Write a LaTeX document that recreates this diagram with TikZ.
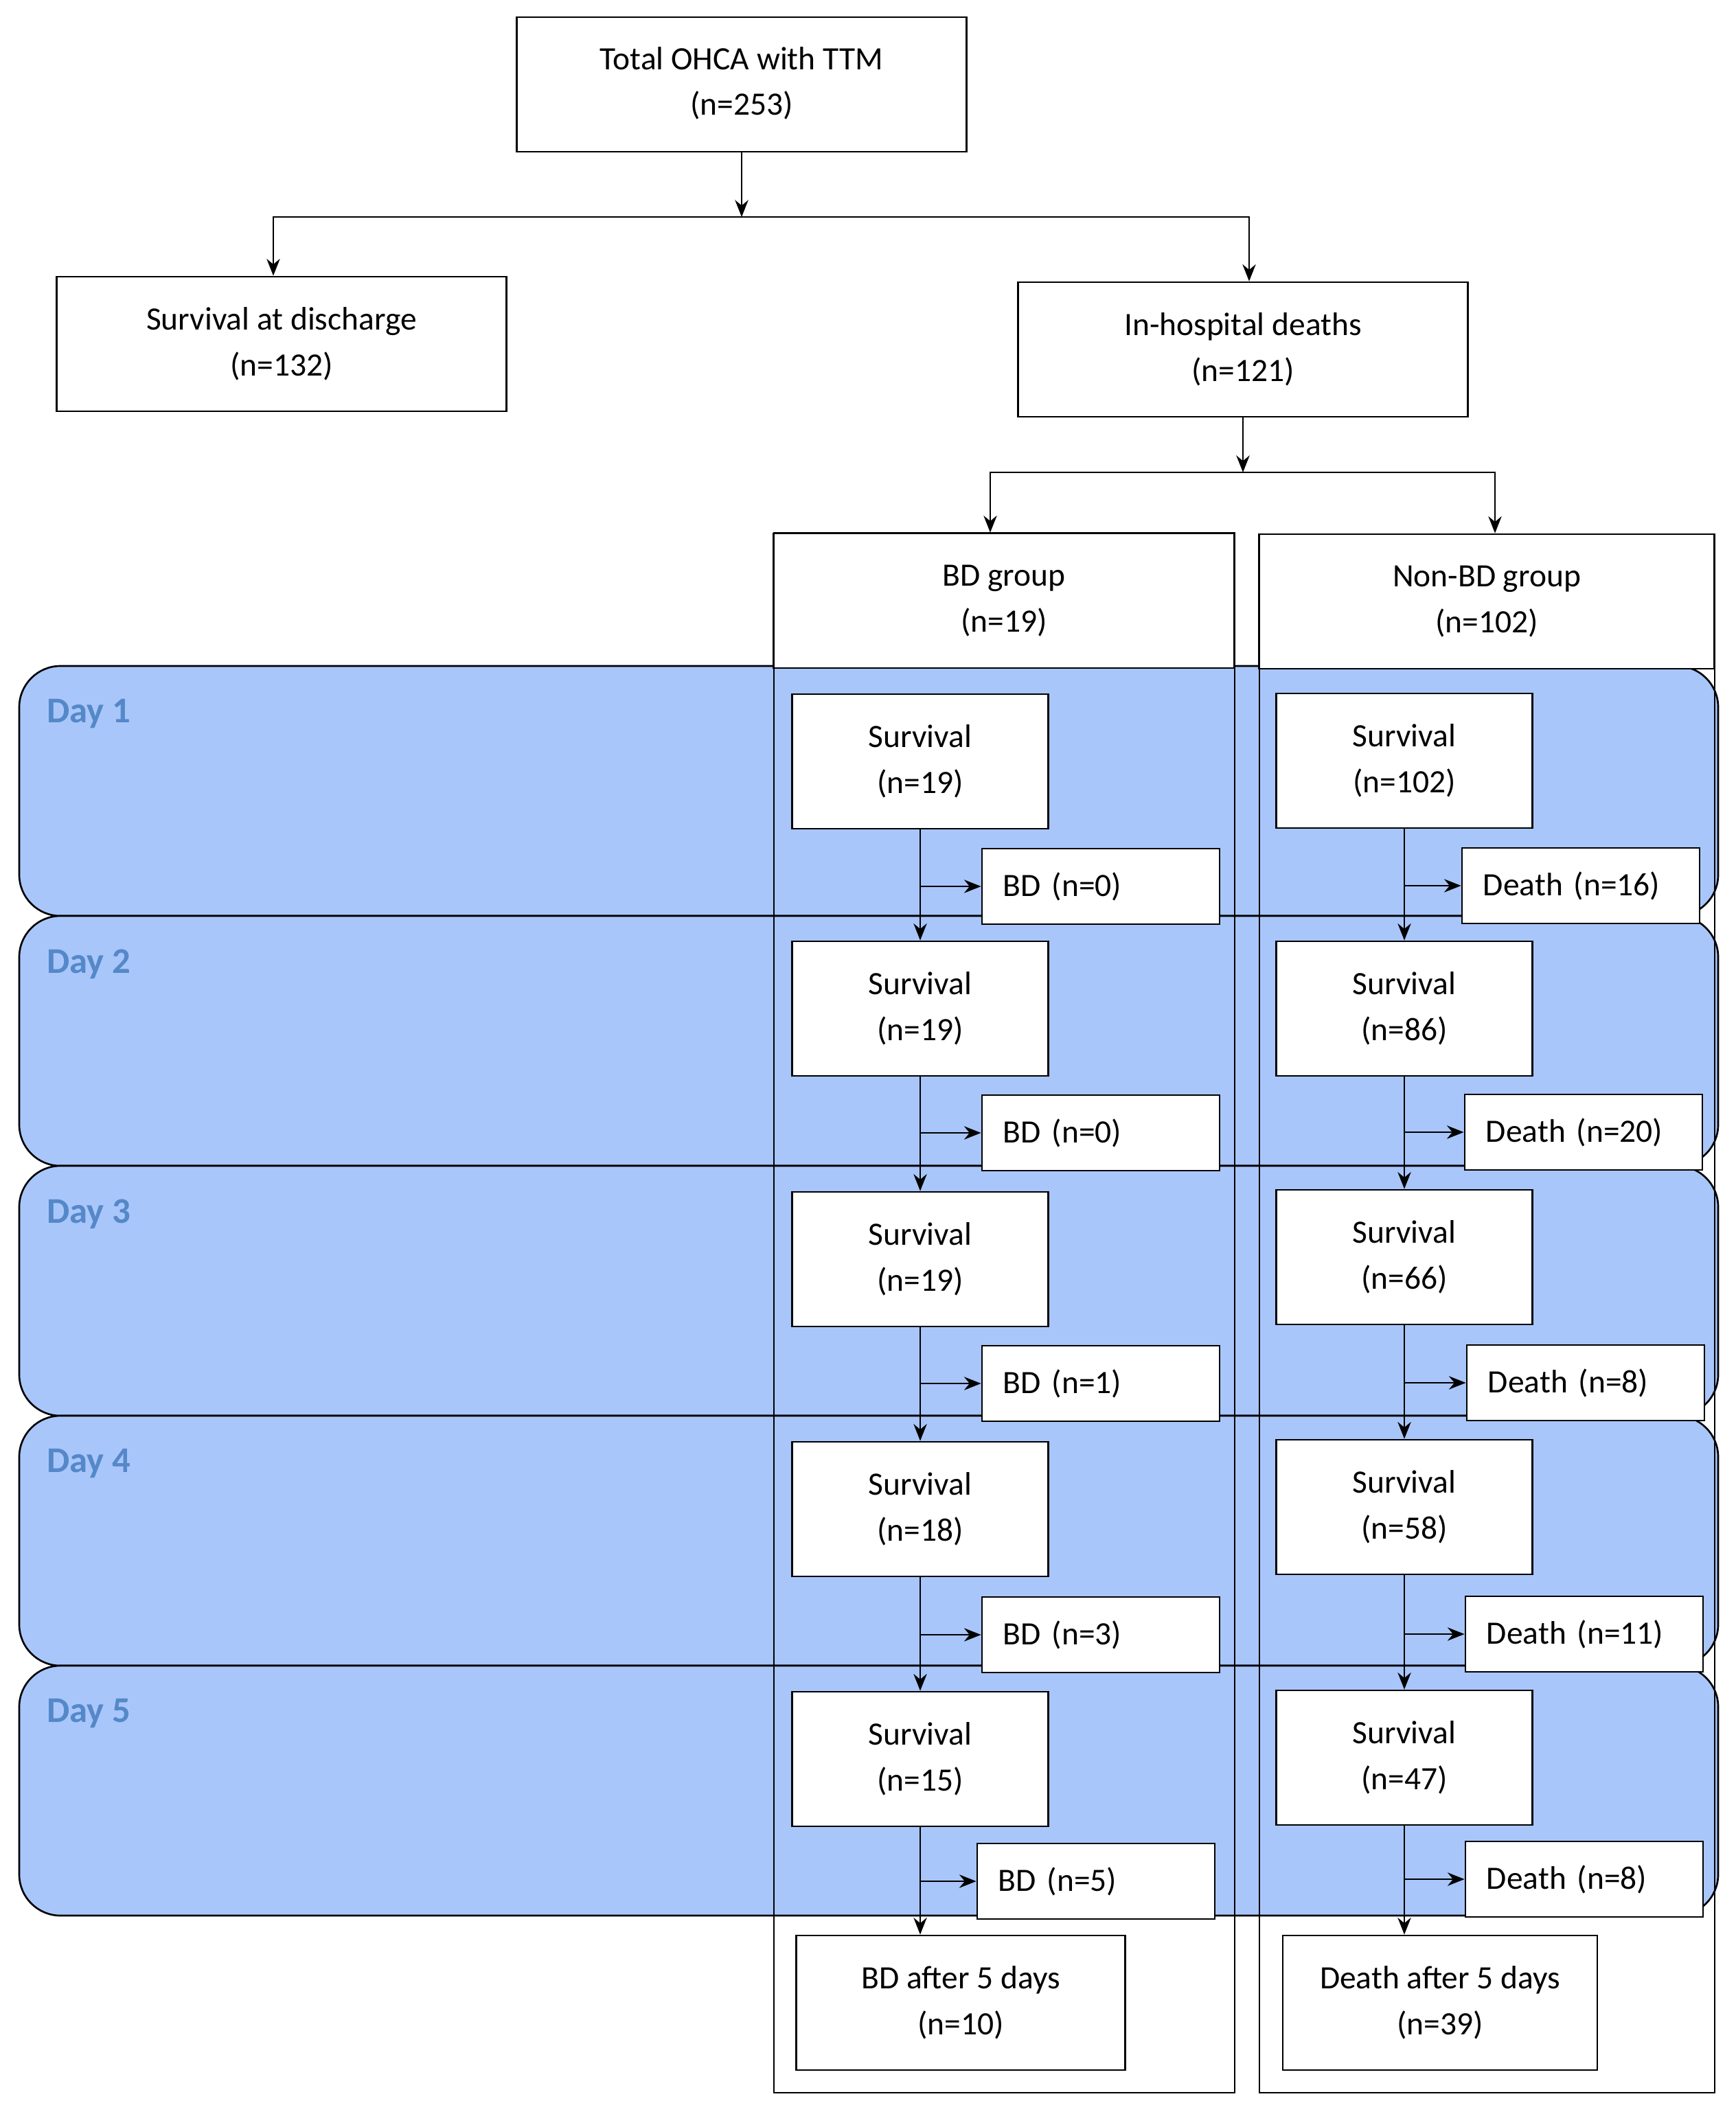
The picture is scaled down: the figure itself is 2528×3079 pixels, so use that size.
\documentclass[tikz,border=0pt]{standalone}
\usepackage{fontspec}
\setmainfont{Carlito}
\usetikzlibrary{arrows.meta}
\definecolor{bandblue}{RGB}{169,198,250}
\definecolor{daytext}{RGB}{84,136,201}
\tikzset{
>={Stealth[length=7pt,width=5.5pt]},
every node/.style={font=\fontsize{13.5}{19}\selectfont},
bigbox/.style={draw, fill=white, align=center, minimum width=6.55cm, minimum height=1.96cm},
survbox/.style={draw, fill=white, align=center, minimum width=3.73cm, minimum height=1.96cm},
endbox/.style={draw, fill=white, align=center, minimum width=4.7cm, minimum height=1.96cm},
outbox/.style={draw, fill=white, align=left, text width=2.84cm, inner xsep=0.31cm, minimum height=1.1cm},
band/.style={draw, fill=bandblue, rounded corners=0.6cm},
daylabel/.style={anchor=west, text=daytext, font=\fontsize{15}{18}\selectfont\bfseries},
}

\begin{document}
\begin{tikzpicture}[x=0.01cm, y=-0.01cm, line width=0.75pt]
        \useasboundingbox (0,0) rectangle (2528,3079);

        % day bands
        \foreach \d/\y in {1/970, 2/1334, 3/1698, 4/2062, 5/2426} {
            \draw[band] (28,\y) rectangle (2502,\y+364);
            \node[daylabel] (day\d) at (55,\y+70) {Day \d};
        }

        % group columns
        \draw (1127,776) rectangle (1798,3048);
        \draw (1834,778) rectangle (2497,3048);

        \node[bigbox, text depth=0.1cm] (total) at (1080,123) {Total OHCA with TTM\\(n=253)};
        \node[bigbox] (disc) at (410,501) {Survival at discharge\\(n=132)};
        \node[bigbox] (ihd) at (1810,509) {In-hospital deaths\\(n=121)};
        \node[bigbox, minimum width=6.71cm] (bdg) at (1462,875) {BD group\\(n=19)};
        \node[bigbox, minimum width=6.63cm] (nbdg) at (2165,876) {Non-BD group\\(n=102)};

        \node[survbox] (bs1) at (1340,1109) {Survival\\(n=19)};
        \node[survbox] (bs2) at (1340,1469) {Survival\\(n=19)};
        \node[survbox] (bs3) at (1340,1834) {Survival\\(n=19)};
        \node[survbox] (bs4) at (1340,2198) {Survival\\(n=18)};
        \node[survbox] (bs5) at (1340,2562) {Survival\\(n=15)};
        \node[outbox] (bd1) at (1603,1291) {BD (n=0)};
        \node[outbox] (bd2) at (1603,1650) {BD (n=0)};
        \node[outbox] (bd3) at (1603,2015) {BD (n=1)};
        \node[outbox] (bd4) at (1603,2381) {BD (n=3)};
        \node[outbox] (bd5) at (1596,2740) {BD (n=5)};
        \node[endbox, minimum width=4.79cm] (bdafter) at (1399,2917) {BD after 5 days\\(n=10)};

        \node[survbox] (ns1) at (2045,1108) {Survival\\(n=102)};
        \node[survbox] (ns2) at (2045,1469) {Survival\\(n=86)};
        \node[survbox] (ns3) at (2045,1831) {Survival\\(n=66)};
        \node[survbox] (ns4) at (2045,2195) {Survival\\(n=58)};
        \node[survbox] (ns5) at (2045,2560) {Survival\\(n=47)};
        \node[outbox] (nd1) at (2302,1290) {Death (n=16)};
        \node[outbox] (nd2) at (2306,1649) {Death (n=20)};
        \node[outbox] (nd3) at (2309,2014) {Death (n=8)};
        \node[outbox] (nd4) at (2307,2380) {Death (n=11)};
        \node[outbox] (nd5) at (2307,2737) {Death (n=8)};
        \node[endbox, minimum width=4.58cm] (nafter) at (2097,2917) {Death after 5 days\\(n=39)};

        % split arrows
        \coordinate (j1) at (1080,316);
        \coordinate (j2) at (1810,688);
        \draw[->] (total) -- (j1);
        \draw[->] (j1) -| ([xshift=-0.12cm]disc.north);
        \draw[->] (j1) -| ([xshift=0.09cm]ihd.north);
        \draw[->] (ihd) -- (j2);
        \draw[->] (j2) -| ([xshift=-0.2cm]bdg.north);
        \draw[->] (j2) -| ([xshift=0.12cm]nbdg.north);

        % day by day
        \draw[->] (bs1) -- (bs2);
        \draw[->] (bs2) -- (bs3);
        \draw[->] (bs3) -- (bs4);
        \draw[->] (bs4) -- (bs5);
        \draw[->] (bs5) -- (bs5 |- bdafter.north);
        \draw[->] (bs1 |- bd1.west) -- (bd1);
        \draw[->] (bs2 |- bd2.west) -- (bd2);
        \draw[->] (bs3 |- bd3.west) -- (bd3);
        \draw[->] (bs4 |- bd4.west) -- (bd4);
        \draw[->] (bs5 |- bd5.west) -- (bd5);

        \draw[->] (ns1) -- (ns2);
        \draw[->] (ns2) -- (ns3);
        \draw[->] (ns3) -- (ns4);
        \draw[->] (ns4) -- (ns5);
        \draw[->] (ns5) -- (ns5 |- nafter.north);
        \draw[->] (ns1 |- nd1.west) -- (nd1);
        \draw[->] (ns2 |- nd2.west) -- (nd2);
        \draw[->] (ns3 |- nd3.west) -- (nd3);
        \draw[->] (ns4 |- nd4.west) -- (nd4);
        \draw[->] (ns5 |- nd5.west) -- (nd5);
\end{tikzpicture}
\end{document}
